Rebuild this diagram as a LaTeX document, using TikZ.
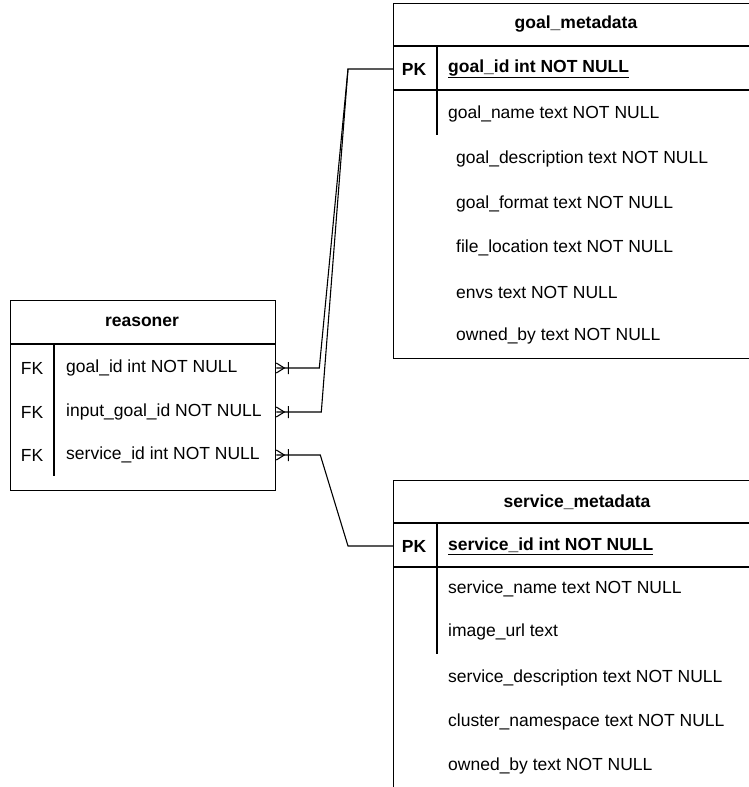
\documentclass[tikz,border=0pt]{standalone}
\usepackage{fontspec}
\setmainfont{Liberation Sans}
\usetikzlibrary{positioning}

\begin{document}
\begin{tikzpicture}[
  x=1pt, y=-1pt,
  font=\fontsize{17.5}{21}\selectfont,
  tbl/.style={draw, line width=1.3pt, anchor=north west, inner sep=0pt},
  rule/.style={line width=1.3pt},
  field/.style={anchor=west, inner sep=0pt},
  key/.style={anchor=center, inner sep=0pt},
  head/.style={font=\fontsize{17.5}{21}\selectfont\bfseries, inner sep=0pt},
  link/.style={line width=1.1pt},
  crowfoot/.pic={\draw[link] (0,-5) -- (8,0) -- (0,5) (12,-6) -- (12,6);},
]
\useasboundingbox (0,0) rectangle (749,787);
\clip (0,0) rectangle (749,787);

\node[tbl, minimum width=265pt, minimum height=190pt] (reasoner) at (10,300) {};
\node[head] at (142,322) {reasoner};
\draw[rule] (reasoner.west |- 0,344) -- (reasoner.east |- 0,344);
\draw[rule] (54,344) -- (54,476);
\foreach \y/\t/\n in {368/goal\_id int NOT NULL/r-goal,
                      412/input\_goal\_id NOT NULL/r-input,
                      455/service\_id int NOT NULL/r-service}{
  \node[key] at (32,\y) {FK};
  \node[field] (\n) at (66,\y) {\t};
}

\node[tbl, minimum width=380pt, minimum height=355pt] (goal) at (393,3) {};
\node[head] at (576,24) {goal\_metadata};
\draw[rule] (goal.west |- 0,46) -- (goal.east |- 0,46);
\draw[rule] (goal.west |- 0,90) -- (goal.east |- 0,90);
\draw[rule] (437,46) -- (437,135);
\node[key, head] at (414,69) {PK};
\node[field, head] (g-pk) at (448,69) {\underline{goal\_id int NOT NULL}};
\node[field] at (448,114) {goal\_name text NOT NULL};
\foreach \y/\t in {159/goal\_description text NOT NULL,
                   204/goal\_format text NOT NULL,
                   248/file\_location text NOT NULL,
                   292/envs text NOT NULL,
                   336/owned\_by text NOT NULL}
  \node[field] at (456,\y) {\t};

\node[tbl, minimum width=380pt, minimum height=330pt] (service) at (393,480) {};
\node[head] at (577,502) {service\_metadata};
\draw[rule] (service.west |- 0,523) -- (service.east |- 0,523);
\draw[rule] (service.west |- 0,567) -- (service.east |- 0,567);
\draw[rule] (437,523) -- (437,654);
\node[key, head] at (414,546) {PK};
\node[field, head] (s-pk) at (448,546) {\underline{service\_id int NOT NULL}};
\foreach \y/\t in {589/service\_name text NOT NULL,
                   632/image\_url text,
                   678/service\_description text NOT NULL,
                   722/cluster\_namespace text NOT NULL,
                   766/owned\_by text NOT NULL}
  \node[field] at (448,\y) {\t};

\coordinate (fork) at (348,69);
\draw[link] (reasoner.east |- r-goal) -- ++(43,0) -- (fork) -- (goal.west |- g-pk);
\draw[link] (reasoner.east |- r-input) -- ++(45,0) -- (fork);
\draw[link] (reasoner.east |- r-service) -- ++(44,0) -- (348,546) -- (service.west |- s-pk);
\pic at (reasoner.east |- r-goal) {crowfoot};
\pic at (reasoner.east |- r-input) {crowfoot};
\pic at (reasoner.east |- r-service) {crowfoot};
\end{tikzpicture}
\end{document}
